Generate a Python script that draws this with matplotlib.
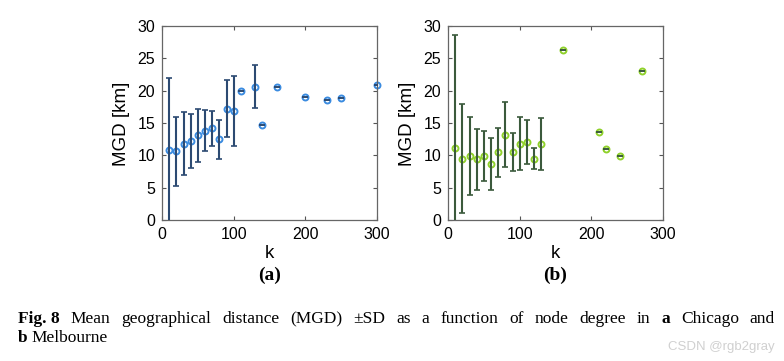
import numpy as np
import matplotlib.pyplot as plt

# panel (a) Chicago
k_a = [10, 20, 30, 40, 50, 60, 70, 80, 90, 100, 110, 130, 140, 160, 200, 230, 250, 300]
mgd_a = [10.8, 10.6, 11.8, 12.2, 13.1, 13.8, 14.2, 12.5, 17.2, 16.8, 20.0, 20.6, 14.7, 20.6, 19.0, 18.6, 18.9, 20.9]
sd_a = [11.2, 5.4, 4.9, 4.2, 4.1, 3.2, 2.7, 3.0, 4.4, 5.4, 0, 3.3, 0, 0, 0, 0, 0, 0]

# panel (b) Melbourne
k_b = [10, 20, 30, 40, 50, 60, 70, 80, 90, 100, 110, 120, 130, 160, 210, 220, 240, 270]
mgd_b = [11.1, 9.5, 9.9, 9.4, 9.9, 8.7, 10.5, 13.2, 10.5, 11.8, 12.0, 9.5, 11.7, 26.3, 13.6, 11.0, 9.9, 23.0]
sd_b = [17.5, 8.4, 6.0, 4.7, 3.9, 4.0, 3.8, 5.0, 2.9, 4.1, 3.4, 1.65, 4.0, 0, 0, 0, 0, 0]

xticks = [0, 100, 200, 300]
yticks = [0, 5, 10, 15, 20, 25, 30]

panels = [
    ("(a)", k_a, mgd_a, sd_a, "#3a8be0", "#2c4a72", 162),
    ("(b)", k_b, mgd_b, sd_b, "#8fd12a", "#3b5a3c", 448),
]

fig = plt.figure(figsize=(7.84, 3.61), dpi=100)
W, H = 784, 361
sans = ["Liberation Sans", "DejaVu Sans"]
serif = ["Liberation Serif", "DejaVu Serif"]
aw = 215

for label, k, mgd, sd, mcol, ecol, left in panels:
    ax = fig.add_axes([left / W, 1 - 220 / H, aw / W, 194 / H])
    ax.plot(k, mgd, linestyle="none", marker="o", ms=4.3, mfc="none", mec=mcol, mew=1.4,
            zorder=2, clip_on=False)
    ax.errorbar(k, mgd, yerr=sd, fmt="none", ecolor=ecol, elinewidth=1.5, capsize=2, capthick=1.2, zorder=3)
    ax.set_xlim(0, 300)
    ax.set_ylim(0, 30)
    ax.set_xticks(xticks)
    ax.set_yticks(yticks)
    ax.tick_params(direction="in", top=True, right=True, length=3, width=0.8, color="#555555",
                   labelsize=11.5, pad=5)
    for t in ax.get_xticklabels() + ax.get_yticklabels():
        t.set_fontfamily(sans)
    for s in ax.spines.values():
        s.set_color("#666666")
        s.set_linewidth(0.9)
    cx = left + aw / 2
    fig.text(cx / W, 1 - 253 / H, "k", fontsize=13.5, family=sans, ha="center", va="center")
    fig.text((left - 40) / W, 1 - 124 / H, "MGD [km]", fontsize=13.5, family=sans,
             ha="center", va="center", rotation=90)
    fig.text(cx / W, 1 - 280 / H, label, fontsize=14, fontweight="bold", family=serif,
             ha="center", va="baseline")

# caption, justified first line
line1 = [("Fig. 8", True), ("Mean", False), ("geographical", False), ("distance", False),
         ("(MGD)", False), ("\u00b1SD", False), ("as", False), ("a", False), ("function", False),
         ("of", False), ("node", False), ("degree", False), ("in", False), ("a", True),
         ("Chicago", False), ("and", False)]
line2 = [("b", True), ("Melbourne", False)]

fig.canvas.draw()
renderer = fig.canvas.get_renderer()
cap_size = 12.5
x0, x1 = 18, 775

def put_words(words, y, justify):
    arts = []
    for w, b in words:
        t = fig.text(0, 1 - y / H, w, fontsize=cap_size, family=serif,
                     fontweight="bold" if b else "normal", va="baseline", ha="left")
        arts.append(t)
    widths = [a.get_window_extent(renderer).width for a in arts]
    if justify:
        gap = (x1 - x0 - sum(widths)) / (len(arts) - 1)
    else:
        gap = 4
    x = x0
    for a, w in zip(arts, widths):
        a.set_x(x / W)
        x += w + gap

put_words(line1, 323, True)
put_words(line2, 342, False)

fig.text(775 / W, 1 - 347 / H, "CSDN @rgb2gray", fontsize=9.5, color="#d0d0d0",
         family=sans, ha="right", va="center")

fig.savefig("out.png", dpi=100)
